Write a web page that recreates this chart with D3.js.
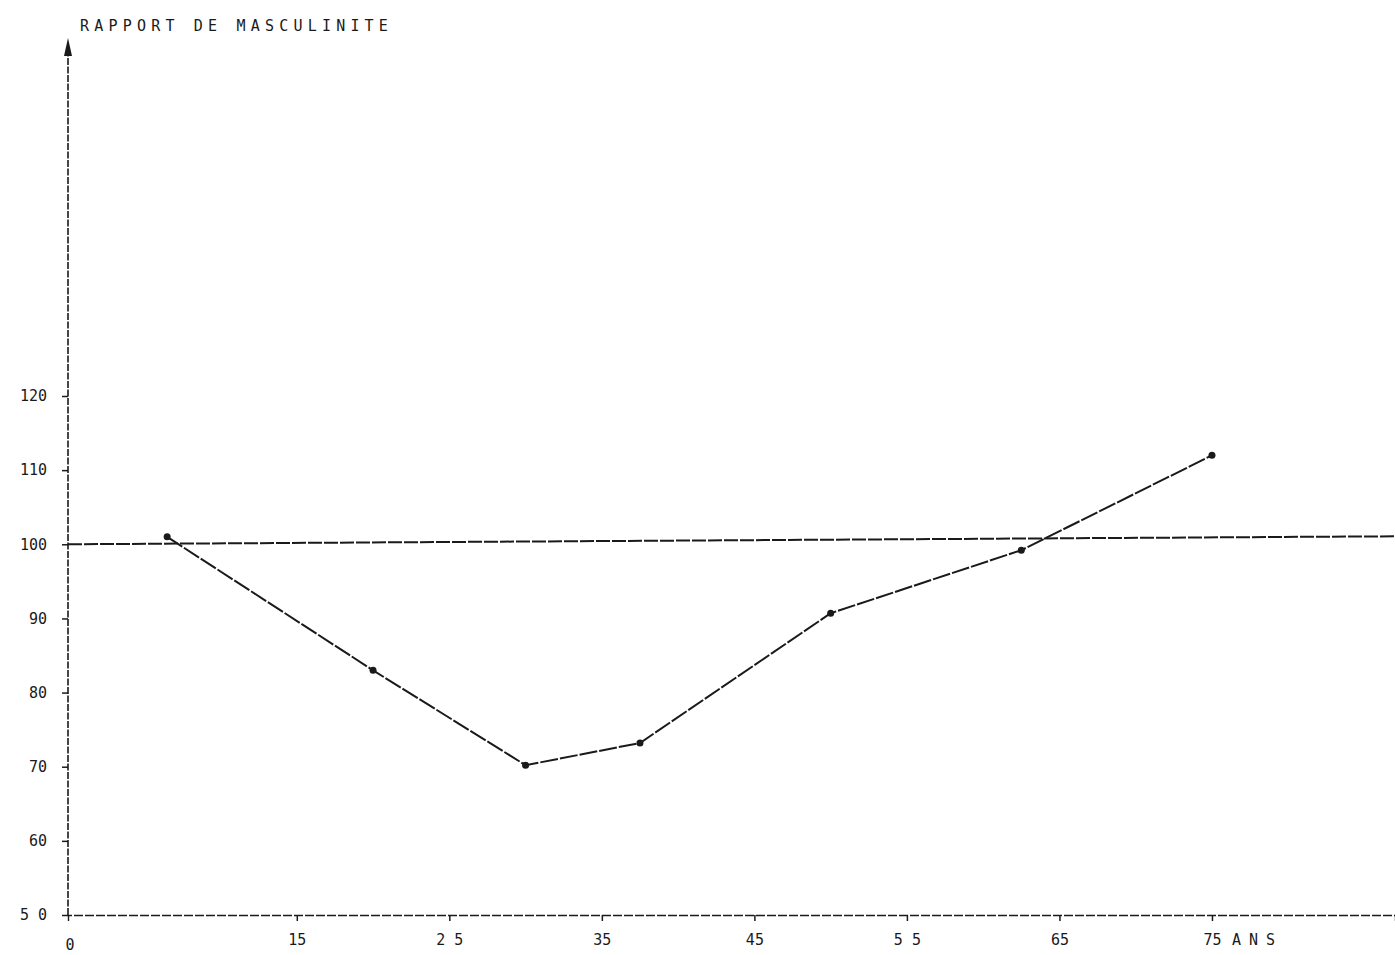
<!DOCTYPE html>
<html><head><meta charset="utf-8">
<script src="https://cdn.jsdelivr.net/npm/d3@7"></script>
<style>body{margin:0;background:#fff;} svg{display:block;}</style>
</head><body>
<svg id="c" width="1395" height="955"></svg>
<script>
const ages = [6.5, 20, 30, 37.5, 50, 62.5, 75];
const ratios = [101, 83, 70.2, 73.2, 90.7, 99.2, 112];
const yTicks = [50, 60, 70, 80, 90, 100, 110, 120];
const yTickLabels = ["5 0", "60", "70", "80", "90", "100", "110", "120"];
const xTicks = [15, 25, 35, 45, 55, 65, 75];
const xTickLabels = ["15", "2 5", "35", "45", "5 5", "65", "75"];
const refLevel = [100];
const yTitle = "RAPPORT DE MASCULINITE";
const xUnit = "ANS";

const svg = d3.select("#c");
const x = d3.scaleLinear().domain([0, 87]).range([68, 1395]);
const y = d3.scaleLinear().domain([50, 120]).range([915, 396]);
const ink = "#1a1a1a";
const font = "'DejaVu Sans Mono', monospace";

// y axis line extending up to arrow
svg.append("line").attr("x1", x(0)).attr("x2", x(0)).attr("y1", y(50)).attr("y2", 50)
  .attr("stroke", ink).attr("stroke-width", 1.6).attr("stroke-dasharray", "7,1.5");
svg.append("path").attr("d", `M${x(0)},38 L${x(0)-4},56 L${x(0)+4},56 Z`).attr("fill", ink);

// axes via d3
const yAxis = d3.axisLeft(y).tickValues(yTicks).tickSize(6).tickFormat((d,i) => yTickLabels[i]);
const gy = svg.append("g").attr("transform", `translate(${x(0)},0)`).call(yAxis);
gy.select(".domain").remove();
gy.selectAll("line").attr("stroke", ink).attr("stroke-width", 1.5);
gy.selectAll("text").attr("font-family", font).attr("font-size", 15).attr("fill", ink).attr("x", -21);

const xAxis = d3.axisBottom(x).tickValues(xTicks).tickSize(6).tickFormat((d,i) => xTickLabels[i]);
const gx = svg.append("g").attr("transform", `translate(0,${y(50)})`).call(xAxis);
gx.select(".domain").attr("stroke", ink).attr("stroke-width", 1.4).attr("stroke-dasharray", "9,2");
gx.selectAll("line").attr("stroke", ink).attr("stroke-width", 1.5);
gx.selectAll("text").attr("font-family", font).attr("font-size", 15).attr("fill", ink).attr("y", 19);

svg.append("text").attr("x", x(0) + 2).attr("y", y(50) + 35).attr("text-anchor", "middle")
  .attr("font-family", font).attr("font-size", 15).attr("fill", ink).text("0");
svg.append("text").attr("x", x(75) + 20).attr("y", y(50) + 30)
  .attr("font-family", font).attr("font-size", 15).attr("letter-spacing", 8).attr("fill", ink).text(xUnit);

// title
svg.append("text").attr("x", 80).attr("y", 31).attr("font-family", font).attr("font-size", 15)
  .attr("letter-spacing", 5.2).attr("fill", ink).text(yTitle);

// reference line at 100
svg.selectAll(".ref").data(refLevel).join("line").attr("class", "ref")
  .attr("x1", x(0)).attr("x2", 1395).attr("y1", d => y(d)).attr("y2", d => y(d) - 8)
  .attr("stroke", ink).attr("stroke-width", 2).attr("stroke-dasharray", "14,2");

// data line
const pts = ages.map((a, i) => [a, ratios[i]]);
svg.append("path").datum(pts)
  .attr("d", d3.line().x(d => x(d[0])).y(d => y(d[1])))
  .attr("fill", "none").attr("stroke", ink).attr("stroke-width", 2).attr("stroke-dasharray", "18,2");
svg.selectAll(".pt").data(pts).join("circle").attr("class", "pt")
  .attr("cx", d => x(d[0])).attr("cy", d => y(d[1])).attr("r", 3.5).attr("fill", ink);
</script>
</body></html>
